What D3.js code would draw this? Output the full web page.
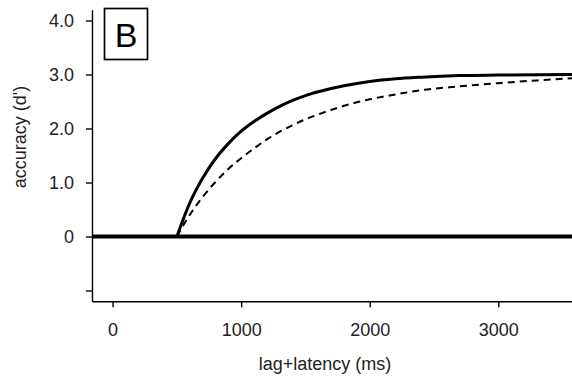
<!DOCTYPE html>
<html>
<head>
<meta charset="utf-8">
<script src="https://cdn.jsdelivr.net/npm/d3@7"></script>
<style>
  body { margin: 0; background: #fff; }
  svg text { font-family: "Liberation Sans", Arial, Helvetica, sans-serif; fill: #222; }
</style>
</head>
<body>
<div id="chart"></div>
<script>
// time axis (ms) and accuracy (d')
const fastTimes  = [0, 500, 600, 700, 800, 900, 1000, 1100, 1200, 1300, 1400, 1500, 1600, 1800, 2000, 2200, 2400, 2700, 3000, 3573];
const fastValues = [0, 0, 0.62, 1.08, 1.44, 1.72, 1.95, 2.13, 2.28, 2.41, 2.52, 2.61, 2.68, 2.79, 2.87, 2.92, 2.95, 2.98, 2.99, 3.0];
const slowTimes  = [0, 500, 600, 700, 800, 900, 1000, 1100, 1200, 1300, 1400, 1500, 1600, 1800, 2000, 2200, 2400, 2700, 3000, 3300, 3573];
const slowValues = [0, 0, 0.40, 0.73, 1.01, 1.25, 1.45, 1.63, 1.80, 1.94, 2.06, 2.17, 2.26, 2.42, 2.54, 2.63, 2.71, 2.78, 2.84, 2.89, 2.93];
const onsetTime = 500;

const xTicks = [0, 1000, 2000, 3000];
const yTicks = [-1, 0, 1, 2, 3, 4];
const yTickLabels = ['', '0', '1.0', '2.0', '3.0', '4.0'];
const panelLabel = 'B';

const width = 572, height = 381;
const margin = {top: 9.7, right: 0, bottom: 79.7, left: 92};

const svg = d3.select('#chart').append('svg')
  .attr('width', width)
  .attr('height', height);

const x = d3.scaleLinear()
  .domain([-160, 3573])
  .range([margin.left, width - margin.right]);
const y = d3.scaleLinear()
  .domain([-1.2, 4.2])
  .range([height - margin.bottom, margin.top]);

svg.append('clipPath').attr('id', 'plot-clip')
  .append('rect')
  .attr('x', margin.left).attr('y', 0)
  .attr('width', width - margin.left).attr('height', height - margin.bottom);

const plot = svg.append('g').attr('clip-path', 'url(#plot-clip)');

// zero line
plot.append('line')
  .attr('x1', x.range()[0]).attr('x2', x.range()[1])
  .attr('y1', y(0)).attr('y2', y(0))
  .attr('stroke', '#000').attr('stroke-width', 4);

function toPoints(ts, vs) { return ts.map((t, i) => [t, vs[i]]); }

const rise = d3.line().x(d => x(d[0])).y(d => y(d[1])).curve(d3.curveMonotoneX);
const flat = d3.line().x(d => x(d[0])).y(d => y(d[1]));

function drawCurve(ts, vs, attrs) {
  const pts = toPoints(ts, vs);
  const before = pts.filter(d => d[0] <= onsetTime);
  const after = pts.filter(d => d[0] >= onsetTime);
  [flat(before), rise(after)].forEach(p => {
    const path = plot.append('path').attr('d', p).attr('fill', 'none').attr('stroke', '#000');
    Object.entries(attrs).forEach(([k, v]) => path.attr(k, v));
  });
}

drawCurve(slowTimes, slowValues, {'stroke-width': 2, 'stroke-dasharray': '7,5'});
drawCurve(fastTimes, fastValues, {'stroke-width': 3});

// axes
const yAxis = svg.append('g')
  .attr('transform', `translate(${margin.left},0)`)
  .call(d3.axisLeft(y).tickValues(yTicks).tickSize(6).tickSizeOuter(0).tickPadding(12)
    .tickFormat((d, i) => yTickLabels[i]));
const xAxis = svg.append('g')
  .attr('transform', `translate(0,${height - margin.bottom})`)
  .call(d3.axisBottom(x).tickValues(xTicks).tickSize(6).tickSizeOuter(0).tickPadding(16)
    .tickFormat(d3.format('d')));

[yAxis, xAxis].forEach(g => {
  g.selectAll('path.domain').attr('stroke', '#000').attr('stroke-width', 1.4);
  g.selectAll('.tick line').attr('stroke', '#000').attr('stroke-width', 1.4);
  g.selectAll('.tick text').attr('font-size', 18).attr('fill', '#222')
    .attr('font-family', '"Liberation Sans", Arial, sans-serif');
});

// axis titles
svg.append('text')
  .attr('x', 325).attr('y', 370)
  .attr('text-anchor', 'middle')
  .attr('font-size', 18)
  .text('lag+latency (ms)');

svg.append('text')
  .attr('transform', 'translate(26,137) rotate(-90)')
  .attr('text-anchor', 'middle')
  .attr('font-size', 18)
  .text("accuracy (d')");

// panel label
svg.append('rect')
  .attr('x', 104.5).attr('y', 8.5)
  .attr('width', 43).attr('height', 51)
  .attr('fill', '#fff').attr('stroke', '#000').attr('stroke-width', 1.7);
svg.append('text')
  .attr('x', 126).attr('y', 47)
  .attr('text-anchor', 'middle')
  .attr('font-size', 34)
  .style('fill', '#000')
  .text(panelLabel);
</script>
</body>
</html>
